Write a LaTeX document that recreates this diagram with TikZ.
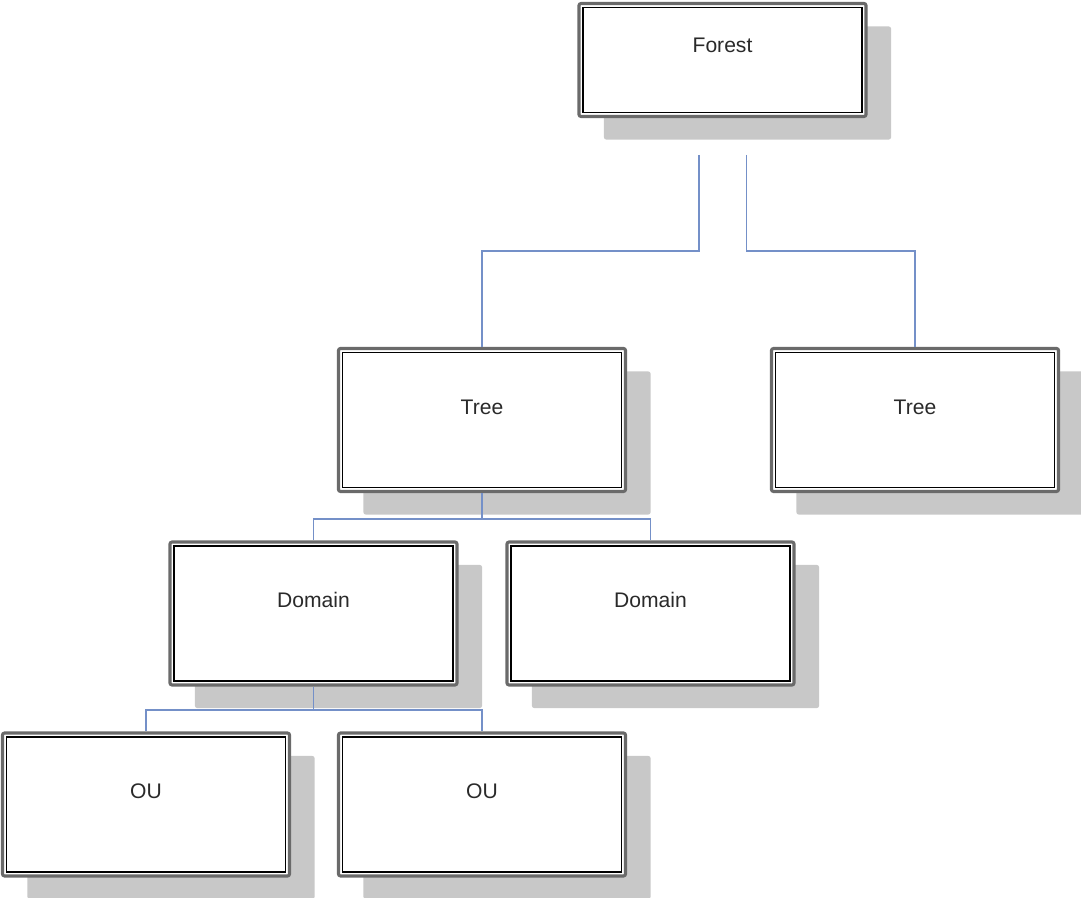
\documentclass[tikz,border=0pt]{standalone}
\usepackage{fontspec}
\setmainfont{Liberation Sans}
\usetikzlibrary{shadows}

\definecolor{framegray}{HTML}{6A6A6A}
\definecolor{shadowgray}{HTML}{C8C8C8}
\definecolor{labelgray}{HTML}{2A2A2A}
\definecolor{linkblue}{HTML}{7490C8}

\tikzset{
  entity/.style={rectangle, draw=framegray, line width=2.2pt, rounded corners=1.5pt,
    fill=white, minimum width=7.175cm, minimum height=3.575cm, inner sep=0pt,
    text height=0.4cm, text depth=0.675cm, text=labelgray,
    font=\fontsize{15}{18}\selectfont,
    general shadow={fill=shadowgray, shadow xshift=0.625cm, shadow yshift=-0.575cm}},
  innerframe/.style={draw=black, line width=1pt},
  link/.style={draw=linkblue, line width=1.4pt}
}

\begin{document}
\begin{tikzpicture}[x=0.025cm, y=-0.025cm]
    \useasboundingbox (0,0) rectangle (1081,898);

    % Forest at the top
    \node[entity, minimum height=2.825cm, text depth=0.775cm] (forest) at (722.5,60) {Forest};

    % Trees
    \node[entity] (tree1) at (482,420) {Tree};
    \node[entity] (tree2) at (915,420) {Tree};

    % Domains
    \node[entity] (domain1) at (313.5,613.5) {Domain};
    \node[entity] (domain2) at (650.5,613.5) {Domain};

    % OUs
    \node[entity] (ou1) at (146,804.5) {OU};
    \node[entity] (ou2) at (482,804.5) {OU};

    % Inner black frame of every box
    \foreach \n in {forest,tree1,tree2,domain1,domain2,ou1,ou2}
        \draw[innerframe] ([shift={(0.14cm,0.14cm)}]\n.south west) rectangle
            ([shift={(-0.14cm,-0.14cm)}]\n.north east);

    % Connectors
    \coordinate (forest-l) at (699,155);
    \coordinate (forest-r) at (746.5,155);
    \draw[link] (forest-l) -- ++(0,96) -| (tree1.north);
    \draw[link] (forest-r) -- ++(0,96) -| (tree2.north);

    \draw[link] (tree1.south) -- ++(0,25.5) -| (domain1.north);
    \draw[link] (tree1.south) -- ++(0,25.5) -| (domain2.north);

    \draw[link] (domain1.south) -- ++(0,23) -| (ou1.north);
    \draw[link] (domain1.south) -- ++(0,23) -| (ou2.north);
\end{tikzpicture}
\end{document}
